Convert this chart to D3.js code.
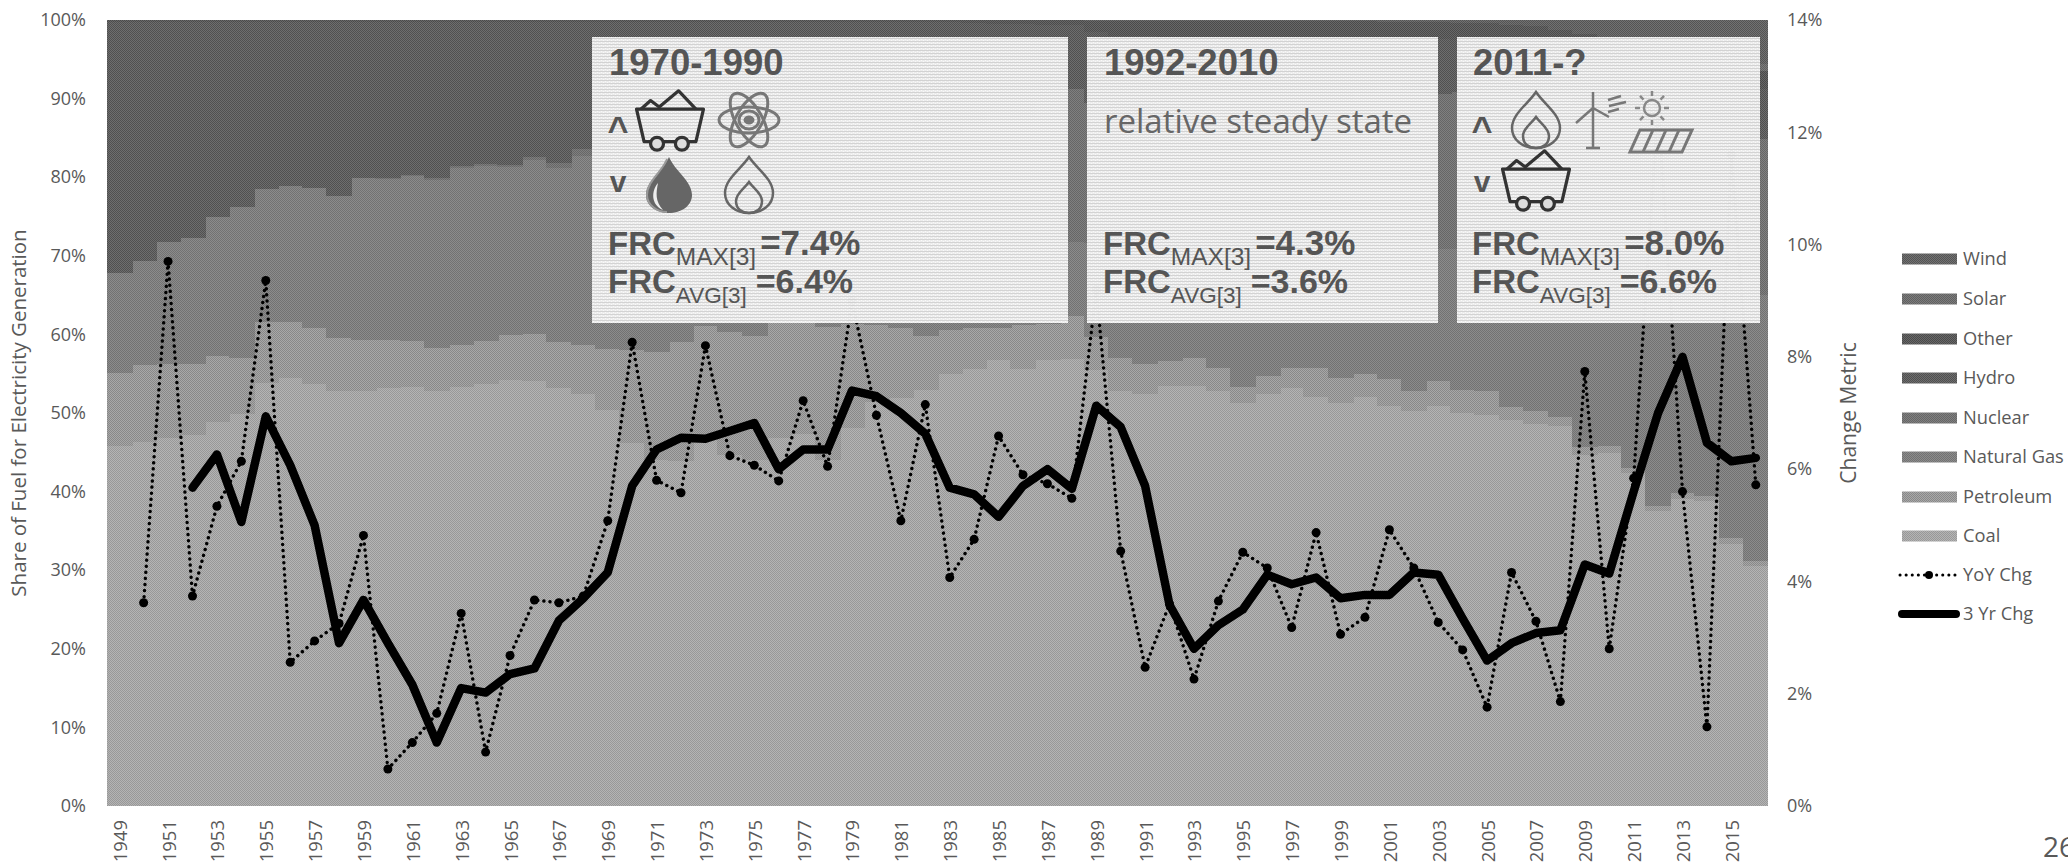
<!DOCTYPE html>
<html><head><meta charset="utf-8">
<script src="https://cdn.jsdelivr.net/npm/d3@7"></script>
<style>
html,body{margin:0;padding:0;background:#fff;overflow:hidden}
svg{display:block}
text{font-family:"Open Sans",sans-serif}
.panel text.b{font-family:"Liberation Sans",Arial,sans-serif;font-weight:700;fill:#555}
</style></head><body>
<svg id="c" width="2068" height="864"></svg>
<script>
const years = d3.range(1949, 2017);
const fuelNames = ["Coal","Petroleum","Natural Gas","Nuclear","Hydro","Other","Solar","Wind"];
const coal = [46,46.5,47,47.3,49,50,54,54.6,53.8,53,53,53.4,53.4,53,53.5,53.8,54.3,54.2,53.3,52.5,50.5,46.3,44.3,44.2,45.6,44.4,44.5,46.3,46.4,44.2,47.8,50.8,51.2,53.2,54.6,55.8,56.8,55.7,56.9,57,55.3,52.5,52.6,53,53.2,52.3,51,52.1,52.8,51.8,50.9,51.7,50.9,50.1,50.8,49.8,49.6,49,48.5,48.2,44.5,44.8,42.3,37.4,38.9,38.6,33.2,30.4];
const petroleum = [9.2,9.8,9.4,9.1,8.4,7.2,7.8,7.2,7.2,6.7,6.5,6.1,5.9,5.5,5.3,5.5,5.7,6,5.9,6.3,7.8,11.9,13.9,15.3,14.1,15.6,16,14.7,14.8,17,13.2,9.7,8.8,6.8,5.6,5.2,4,5.5,4.6,5.5,4.2,4.2,3.9,3.2,3.5,2.9,2,2.3,2.5,3.7,3.2,2.9,3.4,2.5,3.1,3,3,1.6,1.6,1.1,1,0.9,0.7,0.6,0.7,0.7,0.7,0.6];
const naturalGas = [12.8,13.3,15.6,16.1,17.8,19.2,16.9,17.3,17.9,18.2,20.6,20.6,21,21.4,22.6,22.3,21.4,22.2,22.2,24,24.5,24.3,23.3,21.6,18.3,17.2,15.6,14.4,14.4,13.8,14.7,15.1,15.1,13.6,11.9,12.3,11.9,10,10.6,9.4,11.9,12.3,12.4,12.7,13,14.1,14.8,13.2,13.7,14.7,15.1,15.8,17.1,17.9,16.7,17.9,18.8,20.1,21.6,21.4,23.3,23.9,24.7,30.3,27.7,27.5,32.7,33.8];
const nuclear = [0,0,0,0,0,0,0,0,0,0,0,0.1,0.1,0.2,0.3,0.3,0.3,0.4,0.6,0.9,1,1.4,2.4,3.1,4.5,6.1,9,9.4,11.8,12.5,11.4,11,11.9,12.6,12.7,13.6,15.5,16.6,17.7,19.5,17.8,19,19.9,20.1,19.1,19.7,20.1,19.6,18,18.6,19.8,19.8,20.6,20.2,19.7,19.9,19.3,19.4,19.4,19.6,20.2,19.6,19.3,19,19.4,19.5,19.5,19.7];
const hydro = [32,30.4,28,27.5,24.8,23.6,21.3,20.9,21.1,22.1,19.9,19.9,19.5,19.9,18.3,18,18.2,17.2,18,16.2,16.1,16.1,16.5,16.3,14.9,15.8,15.7,13.9,10.4,12.7,12.1,12,11.4,13.9,14.3,13,11.3,11.8,9.9,8.1,9,9.5,9.5,8.1,8.6,7.9,9.3,10.1,10.2,8.7,8.2,7.1,5.7,6.6,7,6.6,6.5,7,5.8,6,6.8,6.2,7.8,6.7,6.4,6.2,6,6.4];
const otherFuel = [0.3,0.3,0.3,0.3,0.3,0.3,0.3,0.3,0.3,0.3,0.3,0.3,0.3,0.3,0.3,0.3,0.3,0.3,0.3,0.3,0.3,0.3,0.3,0.3,0.3,0.3,0.3,0.3,0.3,0.3,0.3,0.3,0.3,0.3,0.3,0.4,0.5,0.5,0.6,0.7,1.4,1.9,2,2,2,2.1,2.1,2.1,2,2,2,2,2,2,2.1,2.1,2.1,2.1,2.1,2.1,2.1,2.1,2.1,2.1,2.1,2.2,2.2,2.2];
const solar = [0,0,0,0,0,0,0,0,0,0,0,0,0,0,0,0,0,0,0,0,0,0,0,0,0,0,0,0,0,0,0,0,0,0,0,0,0,0,0,0,0,0,0,0,0,0,0,0,0,0,0,0,0,0,0,0,0,0,0,0,0,0.03,0.05,0.1,0.2,0.4,0.6,0.9];
const wind = [0,0,0,0,0,0,0,0,0,0,0,0,0,0,0,0,0,0,0,0,0,0,0,0,0,0,0,0,0,0,0,0,0,0,0,0,0,0,0,0,0.1,0.1,0.1,0.1,0.1,0.1,0.1,0.1,0.1,0.1,0.1,0.15,0.2,0.3,0.3,0.4,0.4,0.6,0.8,1.3,1.8,2.3,2.9,3.5,4.1,4.4,4.7,5.6];
const yoyChange = [null,3.62,9.7,3.74,5.34,6.14,9.36,2.56,2.94,3.25,4.82,0.66,1.13,1.65,3.43,0.96,2.68,3.67,3.62,3.74,5.08,8.26,5.8,5.58,8.2,6.24,6.07,5.79,7.22,6.05,9,6.96,5.08,7.15,4.07,4.75,6.59,5.9,5.74,5.48,9.2,4.54,2.47,3.6,2.26,3.65,4.52,4.24,3.18,4.87,3.06,3.36,4.92,4.24,3.27,2.78,1.76,4.16,3.29,1.86,7.74,2.8,5.84,12.5,5.6,1.41,11.6,5.72];
const threeYrChange = [null,null,null,5.67,6.26,5.06,6.94,6.07,5,2.9,3.67,2.9,2.16,1.13,2.1,2.02,2.35,2.45,3.3,3.7,4.16,5.7,6.35,6.56,6.54,6.68,6.82,6,6.35,6.35,7.4,7.3,7,6.63,5.67,5.55,5.15,5.7,6,5.65,7.13,6.75,5.7,3.58,2.8,3.22,3.5,4.12,3.95,4.07,3.7,3.76,3.76,4.16,4.12,3.34,2.59,2.9,3.08,3.13,4.3,4.14,5.6,7,8,6.47,6.14,6.2];
const leftTicks = [0,10,20,30,40,50,60,70,80,90,100];
const rightTicks = [0,2,4,6,8,10,12,14];
const panelTitles = ["1970-1990","1992-2010","2011-?"];
const frcMax = ["7.4%","4.3%","8.0%"];
const frcAvg = ["6.4%","3.6%","6.6%"];
const legendNames = ["Wind","Solar","Other","Hydro","Nuclear","Natural Gas","Petroleum","Coal","YoY Chg","3 Yr Chg"];

const fuelSeries = [coal,petroleum,naturalGas,nuclear,hydro,otherFuel,solar,wind];
const tones = {"Coal":["#b4b4b4","#989898"],"Petroleum":["#a8a8a8","#888888"],"Natural Gas":["#8c8c8c","#727272"],"Nuclear":["#808080","#666666"],"Hydro":["#6e6e6e","#505050"],"Other":["#686868","#4a4a4a"],"Solar":["#7c7c7c","#606060"],"Wind":["#727272","#545454"]};
const L=107,R=1768,T=20,B=806;
const svg=d3.select("#c");
const defs=svg.append("defs");
function slug(n){return "p-"+n.replace(/\s/g,"");}
fuelNames.forEach(n=>{
  const p=defs.append("pattern").attr("id",slug(n)).attr("width",2).attr("height",2).attr("patternUnits","userSpaceOnUse");
  p.append("rect").attr("width",2).attr("height",2).attr("fill",tones[n][0]);
  p.append("rect").attr("width",1).attr("height",1).attr("fill",tones[n][1]);
  p.append("rect").attr("x",1).attr("y",1).attr("width",1).attr("height",1).attr("fill",tones[n][1]);
});
const pp=defs.append("pattern").attr("id","p-panel").attr("width",4).attr("height",3).attr("patternUnits","userSpaceOnUse");
pp.append("rect").attr("width",4).attr("height",3).attr("fill","#f0f0f0");
pp.append("rect").attr("y",2).attr("width",4).attr("height",1).attr("fill","#d6d6d6");
pp.append("rect").attr("x",1).attr("width",1).attr("height",1).attr("fill","#fdfdfd");
pp.append("rect").attr("x",3).attr("y",1).attr("width",1).attr("height",1).attr("fill","#fdfdfd");

const x=d3.scaleBand().domain(years).range([L,R]).padding(0);
const yL=d3.scaleLinear().domain([0,100]).range([B,T]);
const yR=d3.scaleLinear().domain([0,14]).range([B,T]);

const rows=years.map((yr,i)=>{const o={year:yr};fuelNames.forEach((n,k)=>o[n]=fuelSeries[k][i]);return o;});
const stack=d3.stack().keys(fuelNames).offset(d3.stackOffsetExpand)(rows);
const gBars=svg.append("g").attr("shape-rendering","crispEdges");
stack.forEach(s=>{
  gBars.append("g").attr("fill",`url(#${slug(s.key)})`).selectAll("rect").data(s).join("rect")
    .attr("x",d=>Math.floor(x(d.data.year))).attr("width",d=>Math.ceil(x.bandwidth())+1 > R-Math.floor(x(d.data.year)) ? R-Math.floor(x(d.data.year)) : Math.ceil(x.bandwidth())+1)
    .attr("y",d=>yL(d[1]*100)).attr("height",d=>Math.max(0,yL(d[0]*100)-yL(d[1]*100)));
});

const cx=i=>x(years[i])+x.bandwidth()/2;
const line=d3.line().defined(d=>d!=null).x((d,i)=>cx(i)).y(d=>yR(d));
svg.append("path").attr("d",line(yoyChange)).attr("fill","none").attr("stroke","#000").attr("stroke-width",3.4).attr("stroke-linecap","round").attr("stroke-dasharray","0.1 6");
svg.append("g").selectAll("circle").data(yoyChange.map((v,i)=>({v,i})).filter(d=>d.v!=null)).join("circle")
  .attr("cx",d=>cx(d.i)).attr("cy",d=>yR(d.v)).attr("r",4.5).attr("fill","#000");
svg.append("path").attr("d",line(threeYrChange)).attr("fill","none").attr("stroke","#000").attr("stroke-width",8.5).attr("stroke-linejoin","round").attr("stroke-linecap","round");

// axes
function style(g){g.select(".domain").remove();g.selectAll("line").remove();g.selectAll("text").attr("fill","#595959").attr("font-size",18).attr("font-family",'"Open Sans",sans-serif');}
svg.append("g").attr("transform",`translate(${L-21},0)`).call(d3.axisLeft(yL).tickValues(leftTicks).tickFormat(d=>d+"%").tickSize(0).tickPadding(0)).call(style);
svg.append("g").attr("transform",`translate(1787,0)`).call(d3.axisRight(yR).tickValues(rightTicks).tickFormat(d=>d+"%").tickSize(0).tickPadding(0)).call(style);
const gx=svg.append("g").attr("transform",`translate(0,${B})`).call(d3.axisBottom(x).tickValues(years.filter(y=>(y-1949)%2===0)).tickFormat(d3.format("d")).tickSize(0)).call(style);
gx.selectAll("text").attr("transform","rotate(-90)").attr("text-anchor","end").attr("x",-14).attr("y",1).attr("dy","0.35em").attr("font-size",18.5);
svg.append("text").attr("transform","translate(19,413) rotate(-90)").attr("text-anchor","middle").attr("font-size",20.5).attr("fill","#595959").attr("dy","0.35em").text("Share of Fuel for Electricity Generation");
svg.append("text").attr("transform","translate(1849,413) rotate(-90)").attr("text-anchor","middle").attr("font-size",21).attr("fill","#595959").attr("dy","0.35em").text("Change Metric");

// legend
const legY=[259,299,339,378,418,457,497,536,575,614];
legendNames.forEach((n,i)=>{
  const y=legY[i];
  if(i<8){svg.append("rect").attr("x",1902).attr("y",y-5.5).attr("width",55).attr("height",11).attr("fill",`url(#${slug(n)})`);}
  else if(i===8){
    svg.append("line").attr("x1",1900).attr("x2",1957).attr("y1",y).attr("y2",y).attr("stroke","#000").attr("stroke-width",3).attr("stroke-linecap","round").attr("stroke-dasharray","0.1 6");
    svg.append("circle").attr("cx",1929).attr("cy",y).attr("r",4).attr("fill","#000");
  } else {
    svg.append("line").attr("x1",1902).attr("x2",1956).attr("y1",y).attr("y2",y).attr("stroke","#000").attr("stroke-width",8).attr("stroke-linecap","round");
  }
  svg.append("text").attr("x",1963).attr("y",y).attr("dy","0.35em").attr("font-size",18.3).attr("fill","#595959").text(n);
});
svg.append("text").attr("x",2043).attr("y",857).attr("font-size",28).attr("fill","#595959").text("26");

// panels
const panels=[{x0:592,x1:1068,tx:608},{x0:1087,x1:1438,tx:1103},{x0:1457,x1:1760,tx:1472}];
panels.forEach((p,i)=>{
  const g=svg.append("g").attr("class","panel");
  g.append("rect").attr("x",p.x0).attr("y",37).attr("width",p.x1-p.x0).attr("height",286).attr("fill","url(#p-panel)").attr("opacity",0.97);
  g.append("text").attr("class","b").attr("x",p.tx+1).attr("y",75).attr("font-size",36.5).text(panelTitles[i]);
  const t1=g.append("text").attr("class","b").attr("x",p.tx).attr("y",255).attr("font-size",33);
  t1.append("tspan").text("FRC");
  t1.append("tspan").attr("font-size",24.5).attr("font-weight",400).attr("dy",10).text("MAX[3]");
  t1.append("tspan").attr("dy",-10).attr("dx",4).attr("font-size",35).text("="+frcMax[i]);
  const t2=g.append("text").attr("class","b").attr("x",p.tx).attr("y",293).attr("font-size",33);
  t2.append("tspan").text("FRC");
  t2.append("tspan").attr("font-size",22.5).attr("font-weight",400).attr("dy",10).text("AVG[3]");
  t2.append("tspan").attr("dy",-10).attr("dx",9).attr("font-size",34).text("="+frcAvg[i]);
});
const pg=svg.append("g").attr("class","panel");
pg.append("text").attr("x",1104).attr("y",133).attr("font-size",33).attr("fill","#666").text("relative steady state");

function sym(px,ch,y,fs){pg.append("text").attr("class","b").attr("x",px).attr("y",y).attr("text-anchor","middle").attr("font-size",fs).text(ch);}
sym(618,"^",142,36);sym(618,"v",192,30);
sym(1482,"^",142,36);sym(1482,"v",192,30);

function cart(cx,cy){
  const g=pg.append("g").attr("transform",`translate(${cx},${cy}) scale(1.08)`).attr("fill","none").attr("stroke","#333").attr("stroke-width",3).attr("stroke-linejoin","round");
  g.append("path").attr("d","M-31,-10H31L24,20H-24Z");
  g.append("path").attr("d","M-27,-10L-18,-18L-10,-12L8,-27L24,-10");
  g.append("circle").attr("cx",-12).attr("cy",22).attr("r",6).attr("fill","#ddd");
  g.append("circle").attr("cx",11).attr("cy",22).attr("r",6).attr("fill","#ddd");
}
function flame(cx,cy,sw){
  const g=pg.append("g").attr("transform",`translate(${cx},${cy})`).attr("fill","none").attr("stroke","#666").attr("stroke-width",sw);
  g.append("path").attr("d","M0,-28C8,-16 24,-6 24,8C24,20 13,28 0,28C-13,28 -24,20 -24,8C-24,-6 -8,-16 0,-28Z");
  g.append("path").attr("d","M0,-3C4,3 13,8 13,16C13,24 7,28 0,28C-7,28 -13,24 -13,16C-13,8 -4,3 0,-3Z");
}
function atom(cx,cy){
  const g=pg.append("g").attr("transform",`translate(${cx},${cy})`).attr("fill","none").attr("stroke","#777").attr("stroke-width",3);
  [0,60,120].forEach(a=>g.append("ellipse").attr("rx",30).attr("ry",13).attr("transform",`rotate(${a})`));
  g.append("ellipse").attr("rx",10).attr("ry",9);
  g.append("ellipse").attr("rx",4).attr("ry",3).attr("fill","#777");
}
function drop(cx,cy){
  const g=pg.append("g").attr("transform",`translate(${cx},${cy})`);
  g.append("path").attr("d","M0,-28C6,-14 23,-4 23,10C23,21 12,28 0,28C-12,28 -23,21 -23,10C-23,-4 -6,-14 0,-28Z").attr("fill","#666");
  g.append("path").attr("d","M-11,-2C-18,6 -18,20 -6,25C-14,16 -13,8 -11,-2Z").attr("fill","#eee");
  g.append("path").attr("d","M-2,-26C-6,-14 -22,-4 -22,10C-22,20 -12,27 -2,27").attr("fill","none").attr("stroke","#999").attr("stroke-width",2);
}
function turbine(cx,cy){
  const g=pg.append("g").attr("transform",`translate(${cx},${cy})`).attr("fill","none").attr("stroke","#777").attr("stroke-width",2.5);
  g.append("path").attr("d","M0,0V40M-7,40H7M0,0V-16M0,0L-17,15M0,0L16,9");
  g.append("path").attr("d","M15,-8L28,-12M16,-2L33,-6M15,4L26,1");
}
function sun(cx,cy){
  const g=pg.append("g").attr("transform",`translate(${cx},${cy})`).attr("fill","none").attr("stroke","#888").attr("stroke-width",2.5);
  g.append("circle").attr("r",8);
  d3.range(0,360,45).forEach(a=>g.append("line").attr("x1",12).attr("x2",17).attr("transform",`rotate(${a})`));
  const s=pg.append("g").attr("fill","none").attr("stroke","#777").attr("stroke-width",3);
  s.append("path").attr("d",`M${cx-12},${cy+22}H${cx+40}L${cx+30},${cy+44}H${cx-22}Z`);
  [1,2,3].forEach(k=>s.append("line").attr("x1",cx-12+13*k).attr("y1",cy+22).attr("x2",cx-22+13*k).attr("y2",cy+44));
}
cart(670,120);atom(749,120);drop(669,185);flame(749,185,2.5);
flame(1536,120,2.5);turbine(1593,108);sun(1652,108);cart(1536,180);
</script>
</body></html>
